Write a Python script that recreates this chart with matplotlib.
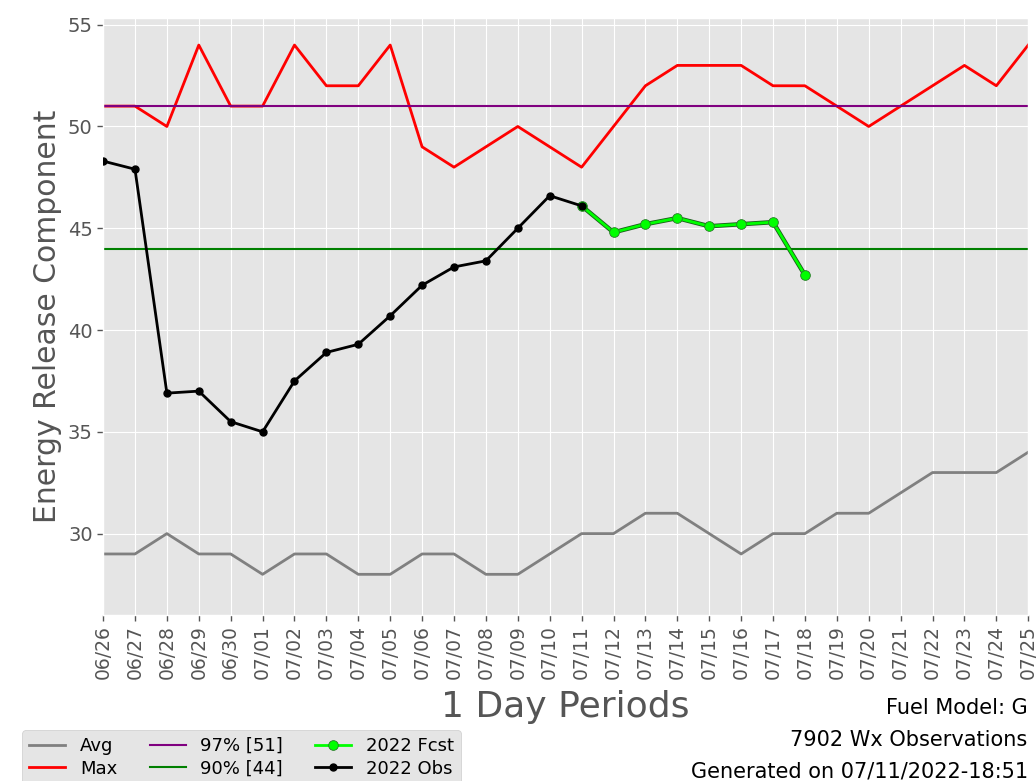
import numpy as np
import matplotlib
matplotlib.use('Agg')
import matplotlib.pyplot as plt

# ----------- Data -----------
dates = ['06/26', '06/27', '06/28', '06/29', '06/30', '07/01', '07/02', '07/03', '07/04', '07/05',
         '07/06', '07/07', '07/08', '07/09', '07/10', '07/11', '07/12', '07/13', '07/14', '07/15',
         '07/16', '07/17', '07/18', '07/19', '07/20', '07/21', '07/22', '07/23', '07/24', '07/25']
avg_vals = [29, 29, 30, 29, 29, 28, 29, 29, 28, 28, 29, 29, 28, 28, 29, 30, 30, 31, 31, 30,
            29, 30, 30, 31, 31, 32, 33, 33, 33, 34]
max_vals = [51, 51, 50, 54, 51, 51, 54, 52, 52, 54, 49, 48, 49, 50, 49, 48, 50, 52, 53, 53,
            53, 52, 52, 51, 50, 51, 52, 53, 52, 54]
obs_vals = [48.3, 47.9, 36.9, 37.0, 35.5, 35.0, 37.5, 38.9, 39.3, 40.7, 42.2, 43.1, 43.4, 45.0,
            46.6, 46.1]
fcst_dates = ['07/11', '07/12', '07/13', '07/14', '07/15', '07/16', '07/17', '07/18']
fcst_vals = [46.1, 44.8, 45.2, 45.5, 45.1, 45.2, 45.3, 42.7]
pct97 = 51
pct90 = 44

plt.style.use('ggplot')
fig = plt.figure(figsize=(10.36, 7.81), dpi=100)
ax = fig.add_axes([0.0995, 0.2125, 0.893, 0.765])

x = np.arange(len(dates))
x_obs = x[:len(obs_vals)]
x_fcst = np.array([dates.index(d) for d in fcst_dates])

l_avg, = ax.plot(x, avg_vals, color='gray', linewidth=2, label='Avg')
l_max, = ax.plot(x, max_vals, color='red', linewidth=2, label='Max')
l_97 = ax.axhline(pct97, color='purple', linewidth=1.5, label='97%% [%d]' % pct97)
l_90 = ax.axhline(pct90, color='green', linewidth=1.5, label='90%% [%d]' % pct90)
ax.plot(x_fcst, fcst_vals, color='#1a5a1a', linewidth=3.2, zorder=4)
l_fcst, = ax.plot(x_fcst, fcst_vals, color='lime', linewidth=2, marker='o', markersize=7,
                  markeredgecolor='#2a7a2a', markeredgewidth=0.6, zorder=5, label='2022 Fcst')
l_obs, = ax.plot(x_obs, obs_vals, color='black', linewidth=2, marker='o', markersize=5,
                 zorder=6, label='2022 Obs')

ax.set_xlim(0, len(dates) - 1)
ax.set_ylim(26, 55.35)
ax.set_xticks(x)
ax.set_xticklabels(dates, rotation=90, fontsize=13.5)
ax.set_yticks([30, 35, 40, 45, 50, 55])
ax.tick_params(axis='y', labelsize=14)
ax.tick_params(axis='both', which='major', direction='out', length=4, width=1, color='#555555')
ax.set_ylabel('Energy Release Component', fontsize=21.5, color='#555555')
ax.set_xlabel('1 Day Periods', fontsize=26, color='#555555')
ax.xaxis.label.set_va('center')
ax.xaxis.set_label_coords(0.5, -0.154)

fig.text(0.992, 0.0935, 'Fuel Model: G', ha='right', va='center', fontsize=15)
fig.text(0.992, 0.0525, '7902 Wx Observations', ha='right', va='center', fontsize=15)
fig.text(0.992, 0.0128, 'Generated on 07/11/2022-18:51', ha='right', va='center', fontsize=15)

fig.legend(handles=[l_avg, l_max, l_97, l_90, l_fcst, l_obs],
           labels=['Avg', 'Max', '97% [51]', '90% [44]', '2022 Fcst', '2022 Obs'],
           ncol=3, loc='lower left', bbox_to_anchor=(0.016, -0.012), fontsize=13,
           frameon=True, facecolor='#E5E5E5', edgecolor='#cccccc', framealpha=1,
           columnspacing=1.8, handlelength=2, labelspacing=0.25, borderaxespad=0.3)

fig.savefig('out.png', dpi=100)
